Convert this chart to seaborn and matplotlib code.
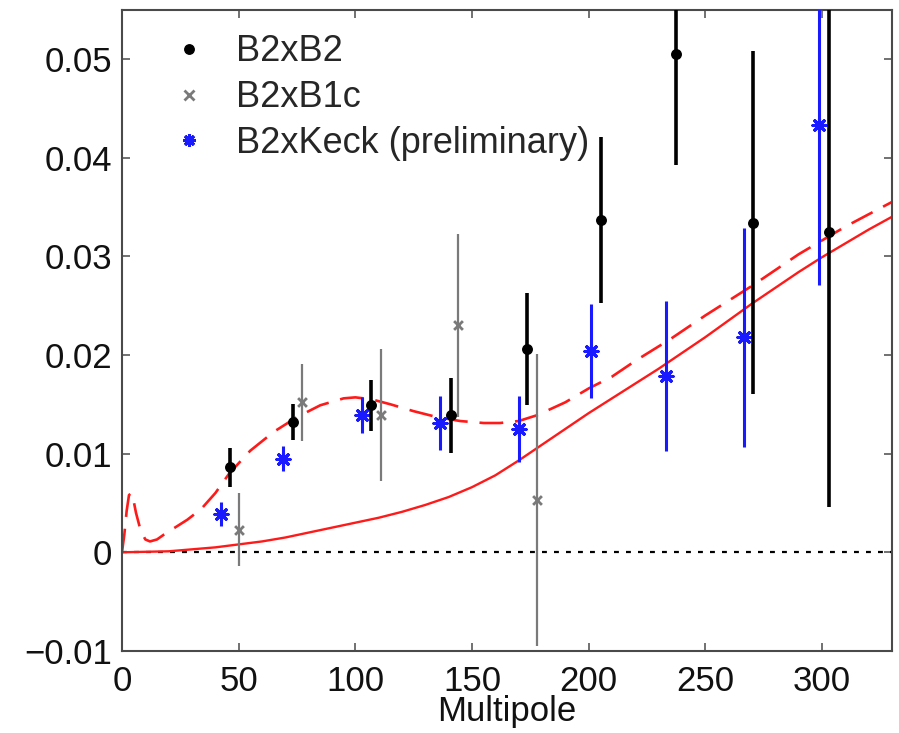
import numpy as np
import pandas as pd
import matplotlib
matplotlib.use("Agg")
import matplotlib.pyplot as plt
from matplotlib.lines import Line2D
import seaborn as sns

# ---- band powers ----
b2b2_ell = [46.4, 73.5, 106.9, 140.8, 173.7, 205.2, 237.3, 270.3, 303.1]
b2b2_val = [0.0086, 0.0132, 0.0149, 0.0139, 0.0206, 0.0337, 0.0505, 0.0334, 0.0325]
b2b2_err = [0.0020, 0.0018, 0.0026, 0.0038, 0.0057, 0.0084, 0.0113, 0.0174, 0.0279]

b2b1c_ell = [50.3, 77.3, 111.2, 143.9, 178.0]
b2b1c_val = [0.0023, 0.0152, 0.0139, 0.0230, 0.0053]
b2b1c_err = [0.0037, 0.0039, 0.0067, 0.0093, 0.0148]

keck_ell = [42.4, 69.2, 102.9, 136.2, 170.1, 200.9, 233.3, 266.4, 298.8]
keck_val = [0.0039, 0.0095, 0.0139, 0.0131, 0.0125, 0.0204, 0.0179, 0.0218, 0.0433]
keck_err = [0.0012, 0.0013, 0.0018, 0.0027, 0.0033, 0.0048, 0.0076, 0.0111, 0.0162]

# ---- model spectra ----
lens_ell = [0, 10, 20, 30, 40, 50, 60, 70, 80, 90, 100, 110, 120, 130, 140, 150,
            160, 170, 180, 190, 200, 210, 220, 230, 240, 250, 260, 270, 280, 290,
            300, 310, 320, 330]
lens_val = [0.0, 0.00005, 0.0001, 0.0003, 0.0005, 0.0008, 0.0011, 0.0015, 0.0020,
            0.0025, 0.0030, 0.0035, 0.0041, 0.0048, 0.0056, 0.0066, 0.0078, 0.0093,
            0.0109, 0.0125, 0.0141, 0.0156, 0.0171, 0.0186, 0.0202, 0.0218, 0.0235,
            0.0252, 0.0268, 0.0284, 0.0299, 0.0313, 0.0327, 0.0340]

tot_ell = [0, 1, 2, 3, 4, 5, 6, 8, 10, 12, 15, 18, 22, 28, 34, 40, 46, 55, 65, 75,
           85, 95, 100, 107, 115, 125, 135, 145, 155, 162, 170, 178, 190, 200, 210,
           220, 235, 250, 270, 290, 310, 330]
tot_val = [0.0, 0.0018, 0.0042, 0.0058, 0.0060, 0.0052, 0.0040, 0.0022, 0.0013,
           0.0011, 0.0013, 0.0018, 0.0024, 0.0033, 0.0044, 0.0060, 0.0080, 0.0103,
           0.0122, 0.0137, 0.0149, 0.0156, 0.0157, 0.0155, 0.0150, 0.0143, 0.0137,
           0.0133, 0.0131, 0.0131, 0.0133, 0.0139, 0.0152, 0.0166, 0.0178, 0.0194,
           0.0216, 0.0240, 0.0270, 0.0302, 0.0330, 0.0355]

xticks = [0, 50, 100, 150, 200, 250, 300]
yticks = [-0.01, 0.0, 0.01, 0.02, 0.03, 0.04, 0.05]
ytick_labels = ["\u22120.01", "0", "0.01", "0.02", "0.03", "0.04", "0.05"]

sns.set_theme(style="ticks")
plt.rcParams["font.family"] = ["Liberation Sans", "DejaVu Sans"]
plt.rcParams["axes.unicode_minus"] = True

RED = "#ff1a1a"
BLUE = "#1a1aff"
GRAY = "#7a7a7a"
SPINE = "#4a4a4a"
INK = "#111111"

fig = plt.figure(figsize=(8.99, 7.33), dpi=100)
ax = fig.add_axes([0.1357, 0.1119, 0.8565, 0.8751])

# zero line
ax.axhline(0, color="black", lw=1.6, ls=(0, (2.2, 3.2)), zorder=1)

# model curves
lens_df = pd.DataFrame({"ell": lens_ell, "val": lens_val})
tot_df = pd.DataFrame({"ell": tot_ell, "val": tot_val})
sns.lineplot(data=lens_df, x="ell", y="val", ax=ax, color=RED, lw=1.7,
             estimator=None, sort=False, zorder=2)
sns.lineplot(data=tot_df, x="ell", y="val", ax=ax, color=RED, lw=1.9,
             estimator=None, sort=False, zorder=2, dashes=False,
             linestyle=(0, (9, 4.5)))

# band powers with error bars
ax.errorbar(b2b1c_ell, b2b1c_val, yerr=b2b1c_err, fmt="none", ecolor=GRAY,
            elinewidth=1.6, zorder=3)
sns.scatterplot(x=b2b1c_ell, y=b2b1c_val, ax=ax, marker="x", color=GRAY,
                s=40, linewidth=2.0, zorder=4)

ax.errorbar(keck_ell, keck_val, yerr=keck_err, fmt="none", ecolor=BLUE,
            elinewidth=2.2, zorder=3)
sns.scatterplot(x=keck_ell, y=keck_val, ax=ax, marker=(8, 2, 0), color=BLUE,
                edgecolor=BLUE, s=90, linewidth=2.2, zorder=4)

ax.errorbar(b2b2_ell, b2b2_val, yerr=b2b2_err, fmt="none", ecolor="black",
            elinewidth=2.6, zorder=5)
sns.scatterplot(x=b2b2_ell, y=b2b2_val, ax=ax, marker="o", color="black",
                edgecolor="black", s=62, linewidth=0, zorder=6)

ax.set_xlim(0, 330)
ax.set_ylim(-0.01, 0.055)
ax.set_xticks(xticks)
ax.set_xticklabels([str(t) for t in xticks])
ax.set_yticks(yticks)
ax.set_yticklabels(ytick_labels)
ax.tick_params(axis="both", which="both", direction="in", length=6, width=1.1,
               color=SPINE, top=True, right=True, labelsize=25, labelcolor=INK)
ax.tick_params(axis="x", pad=10)
ax.tick_params(axis="y", pad=7)
for sp in ax.spines.values():
    sp.set_color(SPINE)
    sp.set_linewidth(1.5)
    sp.set_visible(True)

ax.set_xlabel("Multipole", fontsize=25, color=INK, labelpad=-2)
ax.set_ylabel("")

handles = [
    Line2D([], [], ls="none", marker="o", color="black", markersize=6.8),
    Line2D([], [], ls="none", marker="x", color=GRAY, markersize=6.5, mew=2.0),
    Line2D([], [], ls="none", marker=(8, 2, 0), color=BLUE, markersize=9, mew=2.2),
]
labels = ["B2xB2", "B2xB1c", "B2xKeck (preliminary)"]
ax.legend(handles, labels, loc="upper left", bbox_to_anchor=(0.036, 0.995),
          frameon=False, fontsize=26, handlelength=1.0, handletextpad=0.8,
          labelspacing=0.3, borderaxespad=0.2)

fig.savefig("out.png", dpi=100)
